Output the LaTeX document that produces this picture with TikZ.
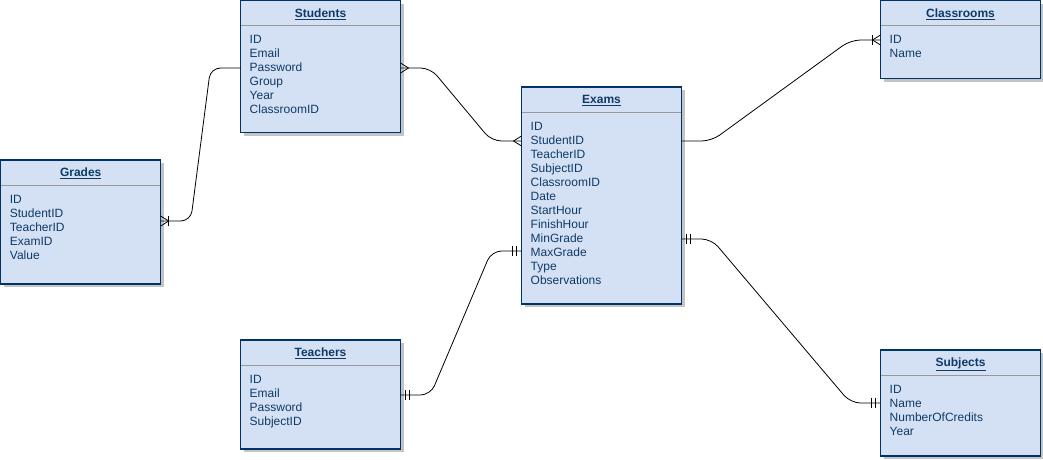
\documentclass[tikz,border=0pt]{standalone}
\usepackage{fontspec}
\setmainfont{Liberation Sans}
\usetikzlibrary{calc,shadows}
\definecolor{efill}{HTML}{D4E1F5}
\definecolor{eline}{HTML}{003366}
\definecolor{etext}{HTML}{0F3A66}
\definecolor{sepc}{HTML}{999999}
\definecolor{shadowc}{HTML}{C4C4C4}
\tikzset{
  entity/.style={draw=eline, fill=efill, line width=1.2pt, minimum width=160pt,
    anchor=north west, inner sep=0pt, outer sep=0pt,
    drop shadow={shadow xshift=3pt, shadow yshift=-3pt, fill=shadowc, opacity=1}},
  septitle/.style={draw=sepc, line width=0.8pt},
  etitle/.style={font=\fontsize{12}{14}\selectfont\bfseries, text=etext, anchor=base, inner sep=0pt},
  eitem/.style={font=\fontsize{12}{14}\selectfont, text=etext, anchor=base west, inner sep=0pt},
  conn/.style={draw=black, line width=0.8pt},
  link/.style={conn, rounded corners=10pt},
  crowfoot/.pic={\draw[conn] (0,-5) -- (8,0) -- (0,5);},
  onebar/.pic={\draw[conn] (8,-5) -- (8,5);},
  twobars/.pic={\draw[conn] (5,-5) -- (5,5) (9,-5) -- (9,5);}
}
\newcommand{\erentity}[6]{%
  \node[entity, minimum height=#4pt] (#1) at (#2,#3) {};
  \draw[septitle] ($(#1.north west)+(0.6,25)$) -- ($(#1.north east)+(-0.6,25)$);
  \node[etitle] (#1-title) at ($(#1.north)+(0,16.5)$) {\underline{#5}};
  \foreach \t [count=\i] in {#6} {
    \node[eitem] (#1-item\i) at ($(#1.north west)+(9,29+14*\i)$) {\t};
  }%
}
\begin{document}
\begin{tikzpicture}[x=1pt,y=-1pt]
\useasboundingbox (0,0) rectangle (1043,459);
\erentity{students}{240.5}{0.7}{132}{Students}{ID,Email,Password,Group,Year,ClassroomID}
\erentity{grades}{0.7}{160}{124}{Grades}{ID,StudentID,TeacherID,ExamID,Value}
\erentity{exams}{521.5}{87}{217}{Exams}{ID,StudentID,TeacherID,SubjectID,ClassroomID,Date,StartHour,FinishHour,MinGrade,MaxGrade,Type,Observations}
\erentity{classrooms}{880.5}{0.7}{78}{Classrooms}{ID,Name}
\erentity{teachers}{240.5}{340}{109}{Teachers}{ID,Email,Password,SubjectID}
\erentity{subjects}{880.5}{350}{106}{Subjects}{ID,Name,NumberOfCredits,Year}

% connection points
\coordinate (gS) at ($(grades.north east)+(0,61)$);
\coordinate (sG) at ($(students.north west)+(0,67.3)$);
\coordinate (sE) at ($(students.north east)+(0,67.3)$);
\coordinate (eS) at ($(exams.north west)+(0,54)$);
\coordinate (eC) at ($(exams.north east)+(0,54)$);
\coordinate (cE) at ($(classrooms.north west)+(0,39.3)$);
\coordinate (tE) at ($(teachers.north east)+(0,55)$);
\coordinate (eT) at ($(exams.north west)+(0,164)$);
\coordinate (eU) at ($(exams.north east)+(0,152)$);
\coordinate (uE) at ($(subjects.north west)+(0,53)$);

\draw[link] (gS) -- ($(gS)+(30,0)$) -- ($(sG)+(-30,0)$) -- (sG);
\draw[link] (sE) -- ($(sE)+(30,0)$) -- ($(eS)+(-30,0)$) -- (eS);
\draw[link] (eC) -- ($(eC)+(30,0)$) -- ($(cE)+(-30,0)$) -- (cE);
\draw[link] (tE) -- ($(tE)+(30,0)$) -- ($(eT)+(-30,0)$) -- (eT);
\draw[link] (eU) -- ($(eU)+(30,0)$) -- ($(uE)+(-30,0)$) -- (uE);

% end marks
\pic at (gS) {crowfoot};
\pic at (gS) {onebar};
\pic at (sE) {crowfoot};
\pic[xscale=-1] at (eS) {crowfoot};
\pic[xscale=-1] at (cE) {crowfoot};
\pic[xscale=-1] at (cE) {onebar};
\pic at (tE) {twobars};
\pic[xscale=-1] at (eT) {twobars};
\pic at (eU) {twobars};
\pic[xscale=-1] at (uE) {twobars};
\end{tikzpicture}
\end{document}
